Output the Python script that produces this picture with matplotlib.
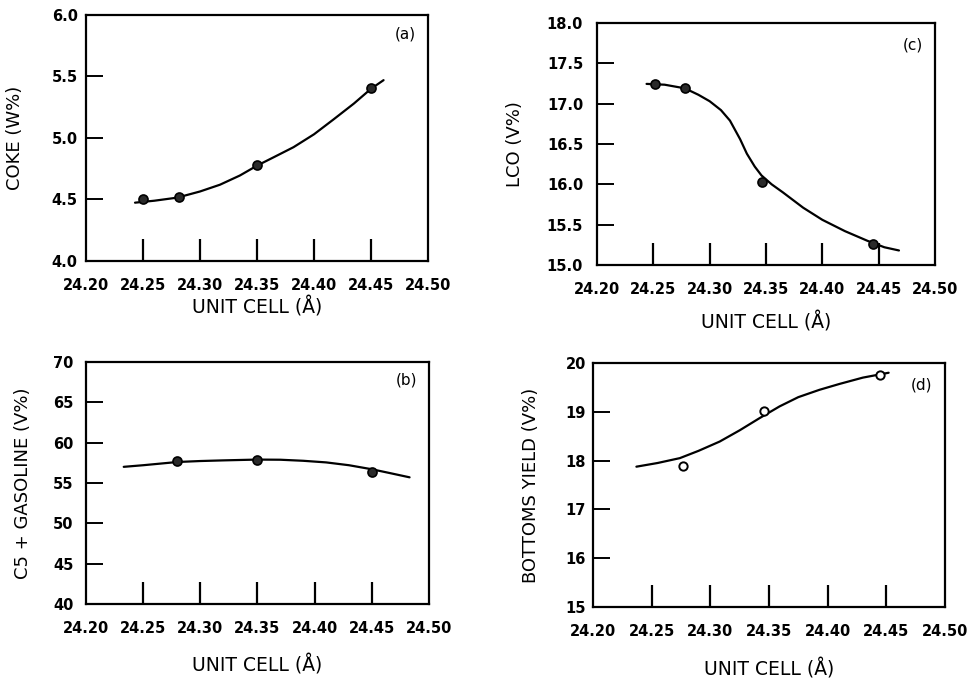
import matplotlib
matplotlib.use("Agg")
import matplotlib.pyplot as plt

plt.rcParams['font.family'] = ['DejaVu Sans']

# x axis shared by all panels
x_ticks = [24.20, 24.25, 24.30, 24.35, 24.40, 24.45, 24.50]
x_tick_labels = ["24.20", "24.25", "24.30", "24.35", "24.40", "24.45", "24.50"]
x_label = "UNIT CELL (Å)"

# (a) coke
coke_x = [24.25, 24.282, 24.35, 24.45]
coke_y = [4.50, 4.52, 4.78, 5.41]
coke_fit_x = [24.243, 24.26, 24.28, 24.30, 24.3175, 24.335, 24.35, 24.365, 24.382, 24.40,
              24.417, 24.435, 24.45, 24.461]
coke_fit_y = [4.474, 4.49, 4.515, 4.565, 4.62, 4.695, 4.775, 4.845, 4.925, 5.03,
              5.15, 5.28, 5.40, 5.47]
coke_yticks = [4.0, 4.5, 5.0, 5.5, 6.0]

# (c) LCO
lco_x = [24.2515, 24.278, 24.346, 24.445]
lco_y = [17.24, 17.19, 16.03, 15.26]
lco_fit_x = [24.244, 24.26, 24.278, 24.29, 24.30, 24.31, 24.318, 24.327, 24.333, 24.34,
             24.346, 24.355, 24.365, 24.383, 24.40, 24.42, 24.44, 24.455, 24.468]
lco_fit_y = [17.245, 17.235, 17.19, 17.11, 17.03, 16.92, 16.79, 16.56, 16.38, 16.22,
             16.11, 16.00, 15.90, 15.71, 15.56, 15.42, 15.30, 15.22, 15.18]
lco_yticks = [15.0, 15.5, 16.0, 16.5, 17.0, 17.5, 18.0]

# (b) C5+ gasoline
gas_x = [24.28, 24.35, 24.45]
gas_y = [57.7, 57.9, 56.3]
gas_fit_x = [24.233, 24.25, 24.265, 24.28, 24.30, 24.32, 24.35, 24.37, 24.39, 24.41,
             24.43, 24.45, 24.465, 24.483]
gas_fit_y = [57.0, 57.2, 57.4, 57.6, 57.72, 57.8, 57.9, 57.88, 57.75, 57.55,
             57.2, 56.7, 56.25, 55.7]
gas_yticks = [40, 45, 50, 55, 60, 65, 70]

# (d) bottoms yield
bot_x = [24.277, 24.346, 24.445]
bot_y = [17.89, 19.02, 19.75]
bot_fit_x = [24.237, 24.255, 24.274, 24.29, 24.308, 24.325, 24.342, 24.359, 24.375, 24.393,
             24.41, 24.43, 24.452]
bot_fit_y = [17.875, 17.95, 18.05, 18.2, 18.39, 18.62, 18.87, 19.11, 19.30, 19.45,
             19.57, 19.70, 19.80]
bot_yticks = [15, 16, 17, 18, 19, 20]

fig = plt.figure(figsize=(9.75, 6.8), dpi=100)

panels = [
    # rect, tag, ylabel, ticks, tick labels, fit, points, open marker,
    # ylabel x, xlabel y, tag y, ytick pad
    ([0.0882, 0.6162, 0.3508, 0.3618], "(a)", "COKE (W%)", coke_yticks,
     ["4.0", "4.5", "5.0", "5.5", "6.0"], coke_fit_x, coke_fit_y, coke_x, coke_y, False,
     -0.181, -0.146, 0.955, 6),
    ([0.6123, 0.6103, 0.3467, 0.3559], "(c)", "LCO (V%)", lco_yticks,
     ["15.0", "15.5", "16.0", "16.5", "17.0", "17.5", "18.0"], lco_fit_x, lco_fit_y, lco_x, lco_y, False,
     -0.216, -0.194, 0.94, 10),
    ([0.0882, 0.1118, 0.3518, 0.3559], "(b)", "C5 + GASOLINE (V%)", gas_yticks,
     ["40", "45", "50", "55", "60", "65", "70"], gas_fit_x, gas_fit_y, gas_x, gas_y, False,
     -0.157, -0.21, 0.955, 9),
    ([0.6082, 0.1074, 0.3610, 0.3588], "(d)", "BOTTOMS YIELD (V%)", bot_yticks,
     ["15", "16", "17", "18", "19", "20"], bot_fit_x, bot_fit_y, bot_x, bot_y, True,
     -0.151, -0.213, 0.94, 5),
]

for rect, tag, ylab, yt, ytl, fx, fy, px, py, hollow, ylx, xly, tagy, ypad in panels:
    ax = fig.add_axes(rect)
    ax.plot(fx, fy, color="black", lw=1.6, zorder=2, solid_capstyle="round")
    if hollow:
        ax.plot(px, py, "o", ms=6, mfc="white", mec="black", mew=1.4, zorder=3)
    else:
        ax.plot(px, py, "o", ms=6.5, mfc="#2a2a2a", mec="black", mew=1.2, zorder=3)

    ax.set_xlim(x_ticks[0], x_ticks[-1])
    ax.set_ylim(yt[0], yt[-1])

    # labels on every value, tick marks only on inner values
    ax.xaxis.remove_overlapping_locs = False
    ax.yaxis.remove_overlapping_locs = False
    ax.set_xticks(x_ticks)
    ax.set_xticklabels(x_tick_labels, fontsize=10.5, fontweight="bold")
    ax.set_yticks(yt)
    ax.set_yticklabels(ytl, fontsize=10.5, fontweight="bold")
    ax.tick_params(axis="x", which="major", length=0, pad=12)
    ax.tick_params(axis="y", which="major", length=0, pad=ypad)
    ax.set_xticks(x_ticks[1:-1], minor=True)
    ax.set_yticks(yt[1:-1], minor=True)
    ax.tick_params(axis="x", which="minor", direction="in", length=16, width=1.6)
    ax.tick_params(axis="y", which="minor", direction="in", length=12, width=1.4)

    for s in ax.spines.values():
        s.set_linewidth(1.6)

    ax.set_xlabel(x_label, fontsize=13.5)
    ax.xaxis.set_label_coords(0.5, xly)
    ax.set_ylabel(ylab, fontsize=13)
    ax.yaxis.set_label_coords(ylx, 0.5)

    ax.text(0.965, tagy, tag, transform=ax.transAxes, ha="right", va="top", fontsize=11)

fig.savefig("out.png", dpi=100)
